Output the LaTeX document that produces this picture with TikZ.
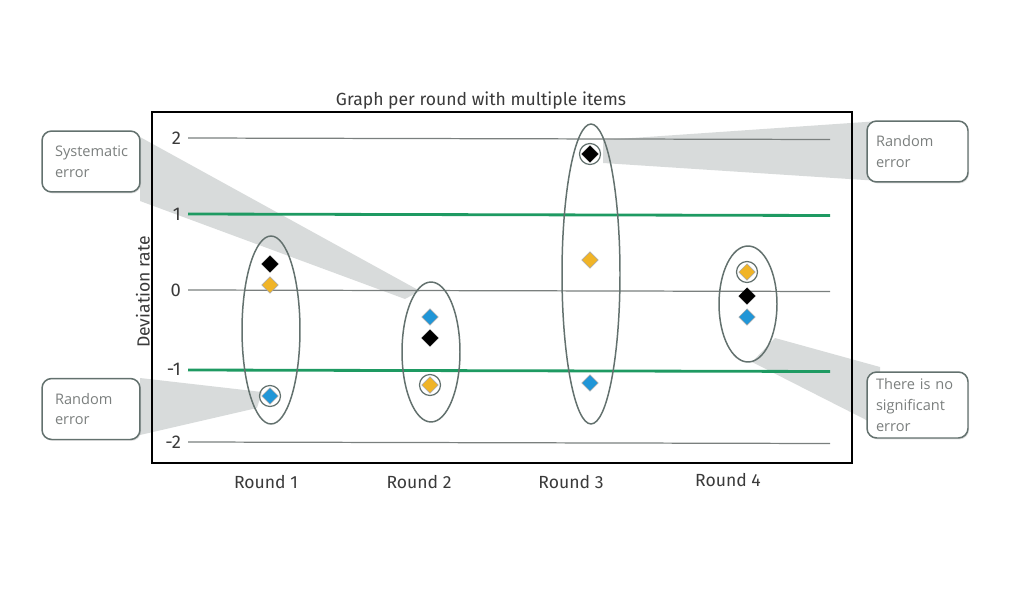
\documentclass[tikz,border=0pt]{standalone}
\usepackage{fontspec}
\setmainfont{Fira Sans}
\newfontfamily\notefont{Open Sans}
\usetikzlibrary{shapes.geometric}
\usetikzlibrary{shadows}

\definecolor{gridgray}{HTML}{7A7F7E}
\definecolor{limgreen}{HTML}{1E9A62}
\definecolor{ringgray}{HTML}{63716E}
\definecolor{wedgegray}{HTML}{D8DBDB}
\definecolor{itemorange}{HTML}{F0B428}
\definecolor{itemblue}{HTML}{2196D7}
\definecolor{notegray}{HTML}{7B7F7E}
\definecolor{labelgray}{HTML}{3A3A3A}

\tikzset{
    lbl/.style={text=labelgray, inner sep=1pt, font=\fontsize{10}{12}\selectfont},
    grp/.style={ellipse, draw=ringgray, line width=0.85pt, inner sep=0pt, minimum width=1.16cm},
    item/.style={diamond, inner sep=0pt, minimum size=0.33cm, draw=gray!70, line width=0.3pt},
    hit/.style={circle, draw=ringgray, line width=0.7pt, inner sep=0pt, minimum size=0.42cm},
    wedge/.style={fill=wedgegray},
    note/.style={rectangle, rounded corners=5.5pt, draw=ringgray, line width=0.85pt, fill=white,
        drop shadow={shadow xshift=0.6pt, shadow yshift=-0.8pt, opacity=0.25},
        text width=1.44cm, inner xsep=0.26cm, inner ysep=0.08cm, minimum height=1.22cm,
        align=left, text=notegray, font=\notefont\fontsize{8.3}{11.9}\selectfont}
}

\begin{document}
\begin{tikzpicture}[x=0.02cm, y=-0.02cm]
    \useasboundingbox (0, 0) rectangle (1024, 598);

    % wedges behind everything
    \coordinate (s1) at (140, 137);
    \coordinate (s2) at (420, 291);
    \coordinate (s3) at (405, 299);
    \coordinate (s4) at (140, 201);
    \fill[wedge] (s1) -- (s2) -- (s3) -- (s4) -- cycle;
    \coordinate (l1) at (140, 378);
    \coordinate (l2) at (262, 392);
    \coordinate (l3) at (257, 408);
    \coordinate (l4) at (140, 435);
    \fill[wedge] (l1) -- (l2) -- (l3) -- (l4) -- cycle;
    \coordinate (r1) at (603, 140);
    \coordinate (r2) at (880, 121);
    \coordinate (r3) at (880, 181);
    \coordinate (r4) at (603, 163);
    \fill[wedge] (r1) -- (r2) -- (r3) -- (r4) -- cycle;
    \coordinate (n1) at (775, 338);
    \coordinate (n2) at (880, 367);
    \coordinate (n3) at (880, 427);
    \coordinate (n4) at (752, 362);
    \fill[wedge] (n1) -- (n2) -- (n3) -- (n4) -- cycle;

    % frame
    \draw[line width=1.1pt] (152, 112) rectangle (852, 463);
    \node[lbl] (title) at (481, 101) {Graph per round with multiple items};
    \node[lbl, rotate=90] (ylab) at (143, 292) {Deviation rate};

    % grid and limits
    \foreach \y in {138, 290, 442} {
        \draw[gridgray, line width=0.7pt] (188, \y) -- (830, \y + 1.5);
    }
    \foreach \y in {214, 370} {
        \draw[limgreen, line width=1.6pt] (188, \y) -- (830, \y + 1.5);
    }
    \foreach \v/\y [count=\k] in {2/138, 1/214, 0/290, -1/369, -2/442} {
        \node[lbl, anchor=east, font=\fontsize{10.5}{12}\selectfont] (tick\k) at (183, \y) {\v};
    }

    % rounds
    \foreach \x/\y [count=\k] in {266/482, 419/482, 571/482, 728/480} {
        \node[lbl] (round\k) at (\x, \y) {Round \k};
    }
    \node[grp, minimum height=3.76cm] (g1) at (271, 330) {};
    \node[grp, minimum height=2.8cm] (g2) at (431, 352) {};
    \node[grp, minimum height=6cm] (g3) at (591, 274) {};
    \node[grp, minimum height=2.32cm] (g4) at (748, 304) {};

    % items
    \node[hit] (h1) at (270, 396) {};
    \node[hit] (h2) at (430, 385) {};
    \node[hit] (h3) at (590, 154) {};
    \node[hit] (h4) at (747, 272) {};
    \node[item, fill=black, draw=black] (k1) at (270, 264) {};
    \node[item, fill=itemorange] (o1) at (270, 285) {};
    \node[item, fill=itemblue] (b1) at (270, 396) {};
    \node[item, fill=itemblue] (b2) at (430, 317) {};
    \node[item, fill=black, draw=black] (k2) at (430, 338) {};
    \node[item, fill=itemorange] (o2) at (430, 385) {};
    \node[item, fill=black, draw=black] (k3) at (590, 154) {};
    \node[item, fill=itemorange] (o3) at (590, 260) {};
    \node[item, fill=itemblue] (b3) at (590, 383) {};
    \node[item, fill=itemorange] (o4) at (747, 272) {};
    \node[item, fill=black, draw=black] (k4) at (747, 296) {};
    \node[item, fill=itemblue] (b4) at (747, 317) {};

    % callouts
    \node[note] (sys) at (91, 161.5) {Systematic\\error};
    \node[note] (lrand) at (91, 409) {Random\\error};
    \node[note, text width=1.66cm, inner xsep=0.18cm] (rrand) at (917.5, 151.5) {Random\\error};
    \node[note, text width=1.66cm, inner xsep=0.18cm, minimum height=1.32cm] (nosig) at (917.5, 405) {There is no\\significant\\error};
\end{tikzpicture}
\end{document}
